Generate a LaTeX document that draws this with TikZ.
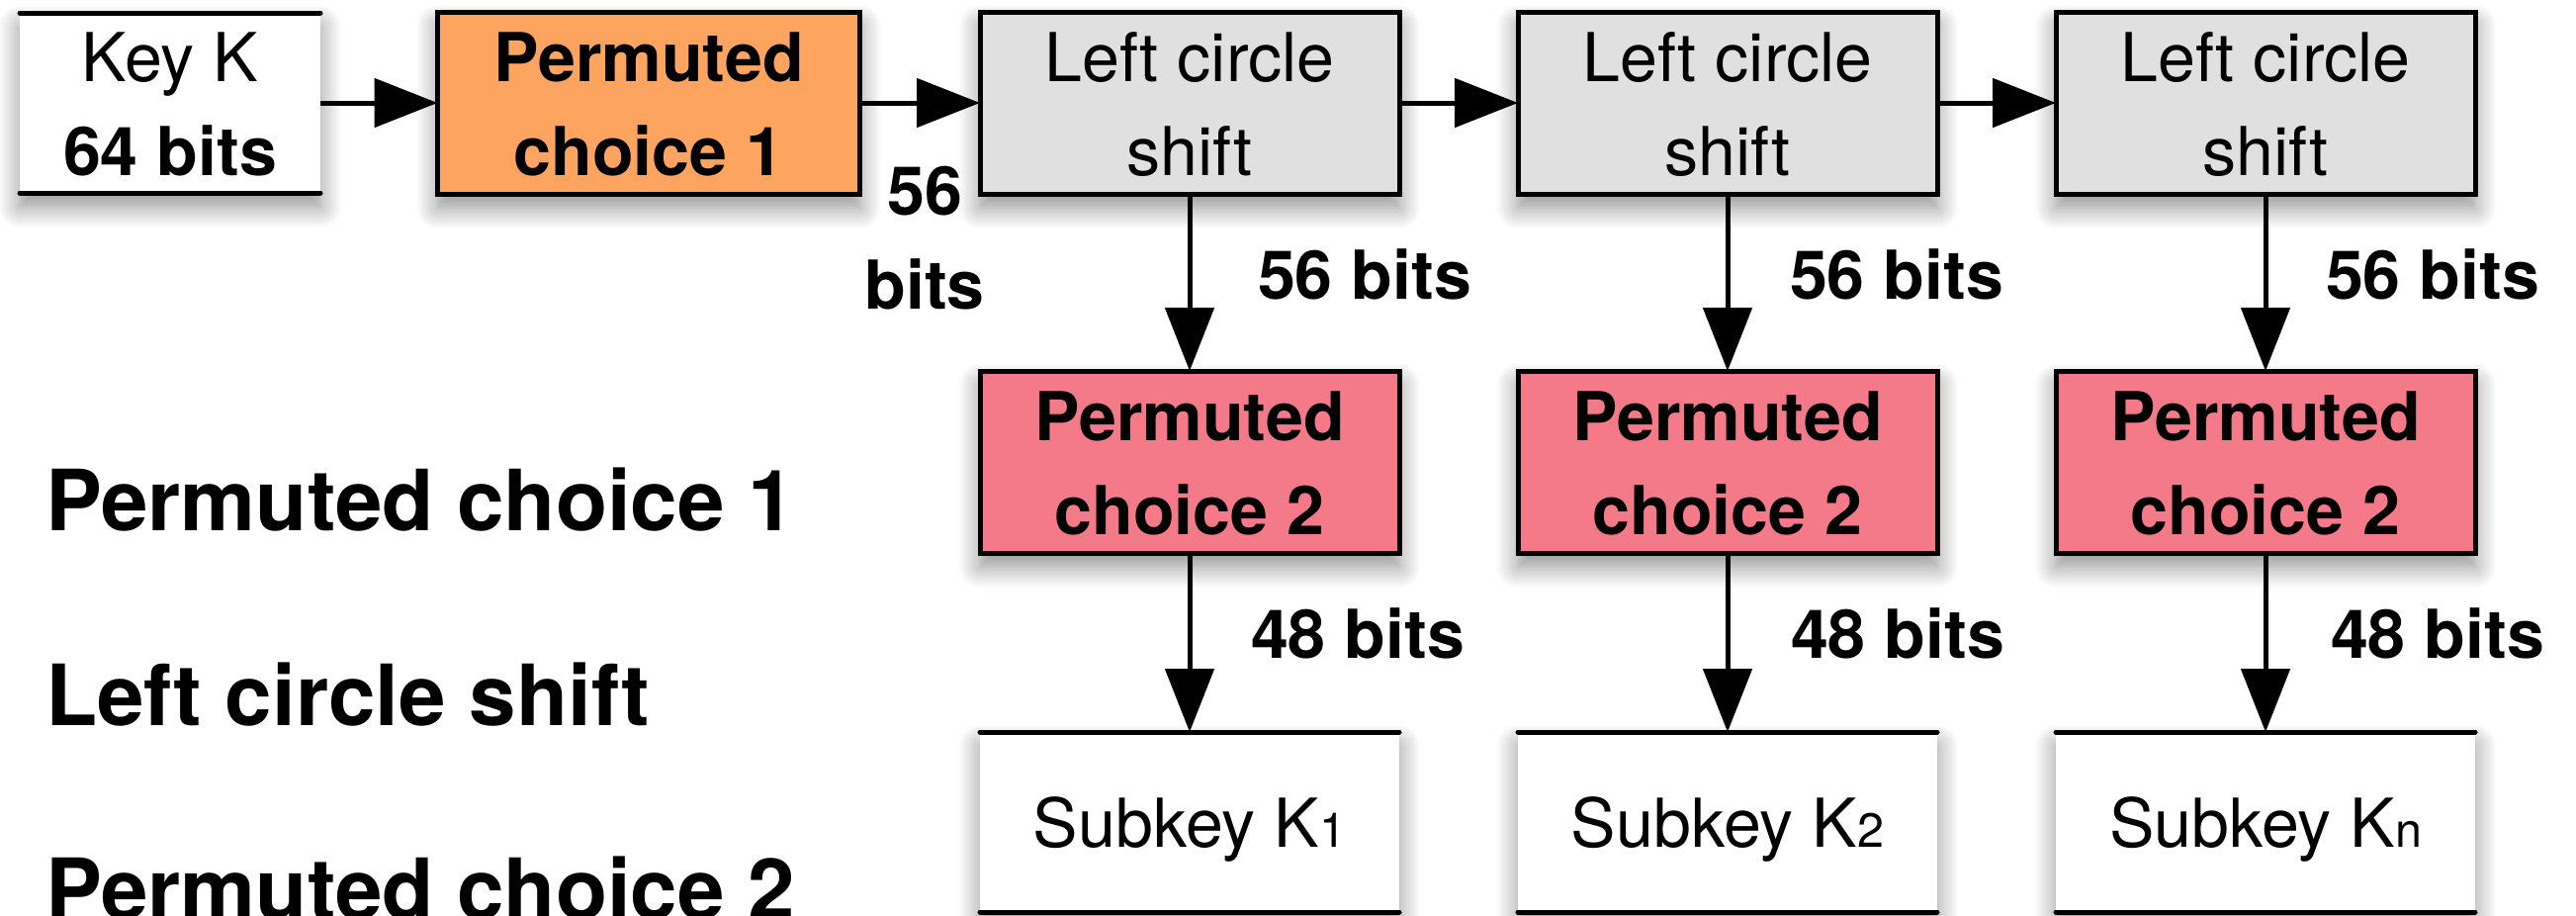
\documentclass[tikz,border=0pt]{standalone}
\usepackage{fontspec}
\setmainfont{TeX Gyre Heros}
\usetikzlibrary{arrows.meta,shadows.blur}

\newcommand\boxfont{\fontsize{19.4pt}{27pt}\selectfont}
\newcommand\sidefont{\fontsize{24.3pt}{30pt}\selectfont\bfseries}
\newcommand\smallidx[1]{{\fontsize{13.8pt}{14pt}\selectfont #1}}

\definecolor{pcone}{RGB}{252,164,96}
\definecolor{pctwo}{RGB}{244,122,138}
\definecolor{shiftgrey}{RGB}{224,224,224}

\tikzset{
  softshadow/.style={blur shadow={shadow xshift=0mm, shadow yshift=-1.4mm,
      shadow blur radius=2.2mm, shadow blur steps=12, shadow opacity=45}},
  stage/.style={draw=black, line width=0.5mm, minimum width=42.4mm,
      minimum height=18.4mm, align=center, font=\boxfont,
      text height=14.6mm, text depth=0pt, softshadow},
  store/.style={fill=white, minimum height=18.2mm, align=center,
      font=\boxfont, softshadow},
  rule/.style={line width=0.5mm, line cap=round},
  flow/.style={line width=0.5mm, -{Triangle[length=6.4mm,width=4.9mm]}},
  bitlabel/.style={font=\boxfont\bfseries},
  sidelabel/.style={font=\sidefont, anchor=base west},
}

\begin{document}
\begin{tikzpicture}[x=0.1mm, y=-0.1mm, every node/.style={inner sep=0pt, outer sep=0pt}]
  \useasboundingbox (0,0) rectangle (2605,925);

  % input key
  \node[store, minimum width=30.4mm, text height=14.6mm, text depth=0pt] (key) at (172,104) {Key K\\\textbf{64 bits}};
  \draw[rule] (key.north west) -- (key.north east);
  \draw[rule] (key.south west) -- (key.south east);

  % first permutation
  \node[stage, minimum width=42.7mm, fill=pcone, font=\boxfont\bfseries] (pc1) at (656,104) {Permuted\\choice 1};

  % shift stages
  \node[stage, fill=shiftgrey] (ls1) at (1203,104) {Left circle\\shift};
  \node[stage, fill=shiftgrey] (ls2) at (1747,104) {Left circle\\shift};
  \node[stage, fill=shiftgrey] (ls3) at (2291,104) {Left circle\\shift};

  % second permutations
  \node[stage, fill=pctwo, font=\boxfont\bfseries] (pa) at (1203,467) {Permuted\\choice 2};
  \node[stage, fill=pctwo, font=\boxfont\bfseries] (pb) at (1747,467) {Permuted\\choice 2};
  \node[stage, fill=pctwo, font=\boxfont\bfseries] (pc) at (2291,467) {Permuted\\choice 2};

  % subkeys
  \node[store, minimum width=42.4mm, text depth=0pt] (sa) at (1203,831) {Subkey K\smallidx{1}};
  \node[store, minimum width=42.4mm, text depth=0pt] (sb) at (1747,831) {Subkey K\smallidx{2}};
  \node[store, minimum width=42.4mm, text depth=0pt] (sc) at (2291,831) {Subkey K\smallidx{n}};
  \foreach \s in {sa,sb,sc}{
    \draw[rule] (\s.north west) -- (\s.north east);
    \draw[rule] (\s.south west) -- (\s.south east);
  }

  % connectors
  \draw[flow] (key.east) -- (pc1.west);
  \draw[flow] (pc1.east) -- (ls1.west);
  \draw[flow] (ls1.east) -- (ls2.west);
  \draw[flow] (ls2.east) -- (ls3.west);
  \draw[flow] (ls1.south) -- (pa.north);
  \draw[flow] (ls2.south) -- (pb.north);
  \draw[flow] (ls3.south) -- (pc.north);
  \draw[flow] (pa.south) -- (sa.north);
  \draw[flow] (pb.south) -- (sb.north);
  \draw[flow] (pc.south) -- (sc.north);

  % bit widths
  \node[bitlabel, align=center] (w0) at (935,241) {56\\bits};
  \node[bitlabel, anchor=base west] (w1) at (1272,302) {56 bits};
  \node[bitlabel, anchor=base west] (w2) at (1810,302) {56 bits};
  \node[bitlabel, anchor=base west] (w3) at (2352,302) {56 bits};
  \node[bitlabel, anchor=base west] (v1) at (1265,665) {48 bits};
  \node[bitlabel, anchor=base west] (v2) at (1811,665) {48 bits};
  \node[bitlabel, anchor=base west] (v3) at (2357,665) {48 bits};

  % legend
  \node[sidelabel] (t1) at (46,536) {Permuted choice 1};
  \node[sidelabel] (t2) at (46,733) {Left circle shift};
  \node[sidelabel] (t3) at (46,929) {Permuted choice 2};
\end{tikzpicture}
\end{document}
